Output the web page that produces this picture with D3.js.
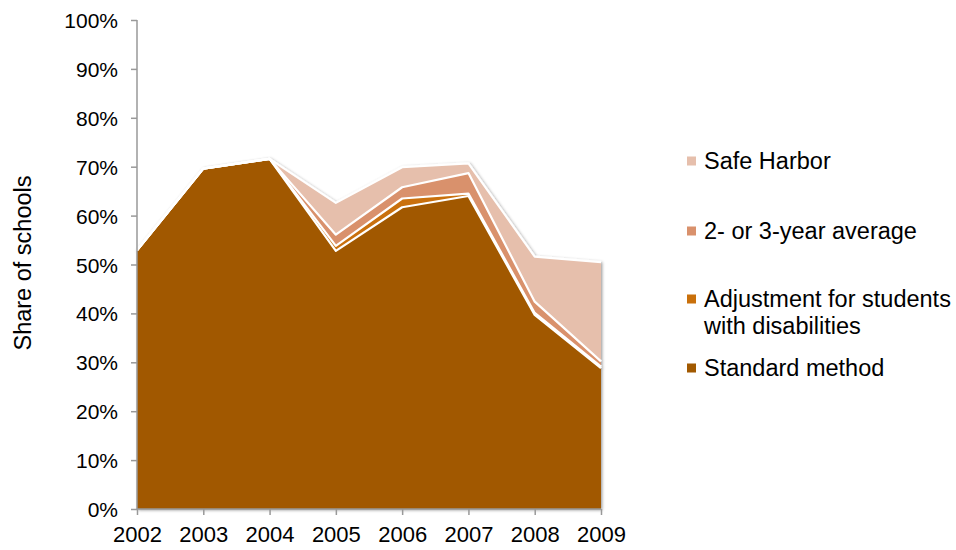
<!DOCTYPE html>
<html>
<head>
<meta charset="utf-8">
<script src="https://cdn.jsdelivr.net/npm/d3@7"></script>
<style>
  html, body { margin: 0; padding: 0; background: #fff; }
  svg text { font-family: "Liberation Sans", Arial, sans-serif; fill: #000; }
</style>
</head>
<body>
<svg id="chart" width="956" height="550"></svg>
<script>
// ---- data ----
const years = [2002, 2003, 2004, 2005, 2006, 2007, 2008, 2009];
const standardMethod = [52.9, 69.6, 71.6, 52.8, 61.7, 64.0, 39.7, 28.8];
const adjustmentDisabilities = [0, 0, 0, 1.0, 1.8, 0.5, 0.4, 0.3];
const twoThreeYearAverage = [0, 0, 0, 2.3, 2.3, 4.2, 2.3, 1.1];
const safeHarbor = [0, 0, 0, 6.5, 4.1, 2.0, 9.2, 20.3];
const seriesNames = ["Standard method", "Adjustment for students with disabilities", "2- or 3-year average", "Safe Harbor"];
const seriesColors = ["#A15900", "#C9700B", "#D9916C", "#E6BFAC"];
const yTicks = [0, 10, 20, 30, 40, 50, 60, 70, 80, 90, 100];

const rows = years.map((y, i) => ({
  year: y,
  s0: standardMethod[i], s1: adjustmentDisabilities[i], s2: twoThreeYearAverage[i], s3: safeHarbor[i]
}));
const keys = ["s0", "s1", "s2", "s3"];
const stacked = d3.stack().keys(keys)(rows);

const svg = d3.select("#chart");
const x = d3.scaleLinear().domain([2002, 2009]).range([137, 601]);
const y = d3.scaleLinear().domain([0, 100]).range([509, 20]);

const defs = svg.append("defs");
const f = defs.append("filter").attr("id", "shadow").attr("x", "-5%").attr("y", "-5%").attr("width", "110%").attr("height", "110%");
f.append("feDropShadow").attr("dx", 1.2).attr("dy", 1.2).attr("stdDeviation", 1.6)
  .attr("flood-color", "#000").attr("flood-opacity", 0.4);

const area = d3.area().x(d => x(d.data.year)).y0(d => y(d[0])).y1(d => y(d[1]));
const topLine = d3.line().x(d => x(d.data.year)).y(d => y(d[1]));

const g = svg.append("g").attr("filter", "url(#shadow)");
g.selectAll("path.area").data(stacked).join("path")
  .attr("class", "area")
  .attr("d", area)
  .attr("fill", (d, i) => seriesColors[i]);
g.selectAll("path.edge").data(stacked).join("path")
  .attr("class", "edge")
  .attr("d", topLine)
  .attr("fill", "none")
  .attr("stroke", "#fff")
  .attr("stroke-width", 2.2)
  .attr("stroke-linejoin", "round");

// axes
const yAxis = d3.axisLeft(y).tickValues(yTicks).tickFormat(d => d + "%").tickSize(6).tickPadding(13);
const yg = svg.append("g").attr("transform", "translate(137,0)").call(yAxis);
yg.select(".domain").attr("stroke", "#999").attr("stroke-width", 1.5).attr("d", "M0,20V509");
yg.selectAll(".tick line").attr("stroke", "#999").attr("stroke-width", 1.5);
yg.selectAll("text").style("font-size", "21px").attr("fill", "#000").attr("dy", "0.36em");

const xAxis = d3.axisBottom(x).tickValues(years).tickFormat(d3.format("d")).tickSize(6).tickPadding(11);
const xg = svg.append("g").attr("transform", "translate(0,509)").call(xAxis);
xg.select(".domain").attr("stroke", "#999").attr("stroke-width", 1.5).attr("d", "M137,0H601");
xg.selectAll(".tick line").attr("stroke", "#999").attr("stroke-width", 1.5);
xg.selectAll("text").style("font-size", "22px").attr("fill", "#000");

svg.append("text")
  .attr("transform", "translate(31,263) rotate(-90)")
  .attr("text-anchor", "middle")
  .style("font-size", "23.5px")
  .text("Share of schools");

// legend
const legendItems = [
  { i: 3, lines: ["Safe Harbor"], y: 161 },
  { i: 2, lines: ["2- or 3-year average"], y: 231 },
  { i: 1, lines: ["Adjustment for students", "with disabilities"], y: 299 },
  { i: 0, lines: ["Standard method"], y: 368 }
];
const lg = svg.append("g");
legendItems.forEach(it => {
  lg.append("rect").attr("x", 687).attr("y", it.y - 4.5).attr("width", 9).attr("height", 9)
    .attr("fill", seriesColors[it.i]);
  it.lines.forEach((t, k) => {
    lg.append("text").attr("x", 704).attr("y", it.y + 8 + k * 27)
      .style("font-size", "23.5px").text(t);
  });
});
</script>
</body>
</html>
